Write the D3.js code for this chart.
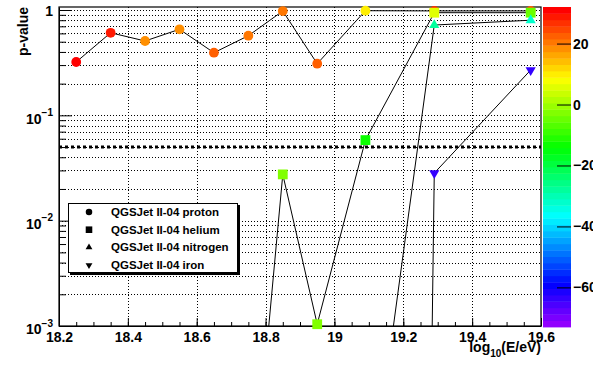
<!DOCTYPE html>
<html>
<head>
<meta charset="utf-8">
<script src="https://cdn.jsdelivr.net/npm/d3@7"></script>
<style>
  body { margin: 0; background: #fff; }
  text { font-family: "Liberation Sans", Arial, Helvetica, sans-serif; font-weight: bold; }
</style>
</head>
<body>
<svg id="chart" width="593" height="365"></svg>
<script>
// p-values per energy bin, z = colour value of each point
const protonX = [18.25, 18.35, 18.45, 18.55, 18.65, 18.75, 18.85, 18.95, 19.09, 19.29, 19.57];
const protonP = [0.321, 0.608, 0.508, 0.656, 0.393, 0.570, 0.978, 0.309, 0.985, 0.98, 0.98];
const protonZ = [30, 29.5, 18, 18, 23, 21, 20.5, 22, 10, 26, 22];

const heliumX = [18.75, 18.85, 18.95, 19.09, 19.29, 19.57];
const heliumP = [8e-6, 0.0275, 0.00104, 0.0582, 0.943, 0.943];
const heliumZ = [-5, -2.5, -2.5, -14, 6, -4];

const nitrogenX = [19.09, 19.29, 19.57];
const nitrogenP = [1.1e-5, 0.72, 0.80];
const nitrogenZ = [-40, -27.6, -32];

const ironX = [19.09, 19.29, 19.57];
const ironP = [1e-50, 0.0283, 0.269];
const ironZ = [-70, -64, -63.5];

const legendLabels = ["QGSJet II-04 proton", "QGSJet II-04 helium", "QGSJet II-04 nitrogen", "QGSJet II-04 iron"];

const xTicks = [18.2, 18.4, 18.6, 18.8, 19, 19.2, 19.4, 19.6];
const yDecades = [1e-3, 1e-2, 1e-1, 1];
const zTicks = [20, 0, -20, -40, -60];
const zDomain = [-73, 32];
const threshold = 0.05;

const frame = { left: 59, right: 541, top: 7, bottom: 326 };
const svg = d3.select('#chart');

const x = d3.scaleLinear().domain([18.2, 19.6]).range([frame.left, frame.right]);
const y = d3.scaleLog().domain([1e-3, 1.068]).range([frame.bottom, frame.top]);

// ROOT "pretty" palette, 50 colours
const nColors = 50;
const palette = d3.range(nColors).map(i => d3.hsl(280 - (i + 1) * 280 / nColors, 1, 0.5).formatHex());
const color = d3.scaleQuantize().domain(zDomain).range(palette);

// minor ticks on log axis
const yMinor = [];
yDecades.slice(0, -1).forEach(d => { for (let k = 2; k <= 9; k++) yMinor.push(d * k); });
const xMinor = d3.range(0, 29).map(i => 18.2 + i * 0.05);

svg.append('defs').append('clipPath').attr('id', 'clip')
  .append('rect')
  .attr('x', frame.left).attr('y', frame.top)
  .attr('width', frame.right - frame.left).attr('height', frame.bottom - frame.top);

// grid
const grid = svg.append('g')
  .attr('stroke', '#000').attr('stroke-width', 1).attr('stroke-dasharray', '1,2');
grid.selectAll('.gx').data(xTicks.slice(1, -1)).join('line')
  .attr('x1', d => Math.round(x(d)) + 0.5).attr('x2', d => Math.round(x(d)) + 0.5)
  .attr('y1', frame.top).attr('y2', frame.bottom);
grid.selectAll('.gy').data(yMinor.concat([1e-2, 1e-1, 1]).filter(d => d > 1e-3)).join('line')
  .attr('x1', frame.left).attr('x2', frame.right)
  .attr('y1', d => Math.round(y(d)) + 0.5).attr('y2', d => Math.round(y(d)) + 0.5);

// threshold line
svg.append('line')
  .attr('x1', frame.left).attr('x2', frame.right)
  .attr('y1', y(threshold)).attr('y2', y(threshold))
  .attr('stroke', '#000').attr('stroke-width', 3).attr('stroke-dasharray', '3,3');

// axes
const xAxis = svg.append('g').attr('transform', `translate(0,${frame.bottom})`)
  .call(d3.axisBottom(x).tickValues(xTicks).tickSizeInner(-8).tickSizeOuter(0).tickPadding(6).tickFormat(d3.format('')));
svg.append('g').attr('transform', `translate(0,${frame.bottom})`)
  .call(d3.axisBottom(x).tickValues(xMinor).tickSizeInner(-4).tickSizeOuter(0).tickFormat(''))
  .select('.domain').remove();

const yAxis = svg.append('g').attr('transform', `translate(${frame.left},0)`)
  .call(d3.axisLeft(y).tickValues(yDecades).tickSizeInner(-13).tickSizeOuter(0).tickPadding(6));
svg.append('g').attr('transform', `translate(${frame.left},0)`)
  .call(d3.axisLeft(y).tickValues(yMinor).tickSizeInner(-7).tickSizeOuter(0).tickFormat(''))
  .select('.domain').remove();

[xAxis, yAxis].forEach(g => {
  g.selectAll('text').attr('font-size', 14).attr('fill', '#000')
    .style('font-family', '"Liberation Sans", Arial, sans-serif');
  g.selectAll('line, path').attr('stroke', '#000');
});

yAxis.selectAll('.tick text').each(function(d) {
  const t = d3.select(this).text('');
  const e = Math.round(Math.log10(d));
  t.attr('dy', e === 0 ? '0.36em' : '0.55em');
  if (e === 0) { t.text('1'); return; }
  t.append('tspan').text('10');
  t.append('tspan').attr('font-size', 10).attr('dy', '-0.75em').text('\u2212' + (-e));
});

// frame
svg.append('rect')
  .attr('x', frame.left).attr('y', frame.top)
  .attr('width', frame.right - frame.left).attr('height', frame.bottom - frame.top)
  .attr('fill', 'none').attr('stroke', '#000').attr('stroke-width', 1.2);

// series
const series = [
  { xs: protonX, ps: protonP, zs: protonZ, shape: d3.symbolCircle, size: 75, rot: 0 },
  { xs: heliumX, ps: heliumP, zs: heliumZ, shape: d3.symbolSquare, size: 96, rot: 0 },
  { xs: nitrogenX, ps: nitrogenP, zs: nitrogenZ, shape: d3.symbolTriangle, size: 45, rot: 0 },
  { xs: ironX, ps: ironP, zs: ironZ, shape: d3.symbolTriangle, size: 45, rot: 180 }
];

const line = d3.line().x(d => x(d.x)).y(d => y(d.p));
const [yLo, yHi] = y.domain();

series.forEach(s => {
  const pts = s.xs.map((v, i) => ({ x: v, p: s.ps[i], z: s.zs[i] }));
  svg.append('path')
    .datum(pts)
    .attr('clip-path', 'url(#clip)')
    .attr('fill', 'none').attr('stroke', '#000').attr('stroke-width', 1)
    .attr('d', line);
  svg.append('g').selectAll('path')
    .data(pts.filter(d => d.p >= yLo && d.p <= yHi))
    .join('path')
    .attr('transform', d => `translate(${x(d.x)},${y(d.p)}) rotate(${s.rot})`)
    .attr('d', d3.symbol(s.shape, s.size))
    .attr('fill', d => color(d.z));
});

// colour bar
const zScale = d3.scaleLinear().domain(zDomain).range([327, 7]);
const cb = svg.append('g');
const step = (zDomain[1] - zDomain[0]) / nColors;
cb.selectAll('rect').data(palette).join('rect')
  .attr('x', 543).attr('width', 28)
  .attr('y', (c, i) => zScale(zDomain[0] + (i + 1) * step))
  .attr('height', (c, i) => zScale(zDomain[0] + i * step) - zScale(zDomain[0] + (i + 1) * step) + 0.4)
  .attr('fill', c => c);
const zAxis = svg.append('g').attr('transform', 'translate(571,0)')
  .call(d3.axisRight(zScale).tickValues(zTicks).tickSizeInner(-14).tickSizeOuter(0).tickPadding(2));
zAxis.select('.domain').remove();
zAxis.selectAll('line').attr('stroke', '#000');
zAxis.selectAll('text').attr('font-size', 14).attr('fill', '#000')
  .style('font-family', '"Liberation Sans", Arial, sans-serif');

// axis titles
svg.append('text')
  .attr('transform', 'translate(28,7) rotate(-90)')
  .attr('text-anchor', 'end').attr('font-size', 14)
  .text('p-value');

const xt = svg.append('text')
  .attr('x', 541).attr('y', 352).attr('text-anchor', 'end').attr('font-size', 14);
xt.append('tspan').text('log');
xt.append('tspan').attr('font-size', 10).attr('dy', '0.5em').text('10');
xt.append('tspan').attr('dy', '-0.35em').text('(E/eV)');

// legend
const lg = svg.append('g');
lg.append('rect').attr('x', 70).attr('y', 205).attr('width', 170).attr('height', 70).attr('fill', '#000');
lg.append('rect').attr('x', 68.5).attr('y', 203.5).attr('width', 169).attr('height', 69)
  .attr('fill', '#fff').attr('stroke', '#000').attr('stroke-width', 1);
legendLabels.forEach((lab, i) => {
  const cy = 212 + i * 17.7;
  const s = series[i];
  lg.append('path')
    .attr('transform', `translate(89,${cy}) rotate(${s.rot})`)
    .attr('d', d3.symbol(s.shape, s.size * 0.45))
    .attr('fill', '#000');
  lg.append('text')
    .attr('x', 111).attr('y', cy).attr('dy', '0.35em')
    .attr('font-size', 11.5)
    .text(lab);
});
</script>
</body>
</html>
